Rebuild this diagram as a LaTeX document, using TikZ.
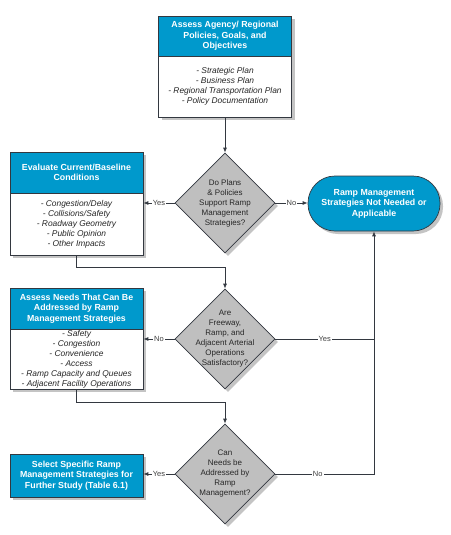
\documentclass[tikz,border=0pt]{standalone}
\usepackage{fontspec}
\setmainfont{Liberation Sans}
\usetikzlibrary{arrows.meta}
\usetikzlibrary{shapes.geometric}
\usetikzlibrary{shadows}
\usetikzlibrary{positioning}
\definecolor{mblue}{rgb}{0, 0.6, 0.8}
\definecolor{mgray}{rgb}{0.75, 0.75, 0.75}
\definecolor{mline}{rgb}{0.2, 0.22, 0.25}
\definecolor{mshadow}{rgb}{0.77, 0.77, 0.77}

\tikzset{
  shade/.style={drop shadow={shadow xshift=3pt, shadow yshift=-3pt, fill=mshadow, opacity=1}},
  head/.style={shade, draw=mline, line width=0.7pt, fill=mblue, text=white,
    font=\fontsize{8.8}{10.5}\selectfont\bfseries, align=center,
    minimum width=133pt, minimum height=41pt, inner sep=0pt},
  body/.style={shade, draw=mline, line width=0.7pt, fill=white, text=black!85,
    font=\fontsize{8.4}{10}\selectfont\itshape, align=center,
    minimum width=133pt, minimum height=61pt, inner sep=0pt},
  decide/.style={shade, diamond, draw=mline, line width=0.7pt, fill=mgray,
    minimum width=100pt, minimum height=100pt, inner sep=0pt},
  ask/.style={font=\fontsize{8}{10}\selectfont, text=black!85, align=center, inner sep=0pt},
  link/.style={draw=mline, line width=0.8pt, -{Latex[length=5pt,width=4pt]}},
  plainline/.style={draw=mline, line width=0.8pt},
  lbl/.style={fill=white, text=black!75, font=\fontsize{7.5}{8}\selectfont, inner sep=1pt},
}

\begin{document}
\begin{tikzpicture}[x=1pt, y=-1pt]
  \useasboundingbox (0,0) rectangle (450,535);

  \node [head, minimum height=40pt] (agency) at (225,36) {Assess Agency/ Regional\\Policies, Goals, and\\Objectives};
  \node [body] (agencyb) at (225,86.5) {- Strategic Plan\\- Business Plan\\- Regional Transportation Plan\\- Policy Documentation};

  \node [decide, label={[ask]center:Do Plans\\\& Policies\\Support Ramp\\Management\\Strategies?}] (plans) at (225,203) {};

  \node [head] (eval) at (76.5,172.5) {Evaluate Current/Baseline\\Conditions};
  \node [body, minimum height=62pt] (evalb) at (76.5,224) {- Congestion/Delay\\- Collisions/Safety\\- Roadway Geometry\\- Public Opinion\\- Other Impacts};

  \node [shade, draw=mline, line width=0.7pt, fill=mblue, text=white, rounded corners=27pt,
    font=\fontsize{8.8}{10.5}\selectfont\bfseries, align=center,
    minimum width=132pt, minimum height=55pt, inner sep=0pt] (stop) at (374,203.5)
    {Ramp Management\\Strategies Not Needed or\\Applicable};

  \node [decide, label={[ask]center:Are\\Freeway,\\Ramp, and\\Adjacent Arterial\\Operations\\Satisfactory?}] (arterial) at (225,339) {};

  \node [head] (needs) at (76.5,308.5) {Assess Needs That Can Be\\Addressed by Ramp\\Management Strategies};
  \node [body, minimum height=60pt] (needsb) at (76.5,359) {- Safety\\- Congestion\\- Convenience\\- Access\\- Ramp Capacity and Queues\\- Adjacent Facility Operations};

  \node [decide, label={[ask]center:Can\\Needs be\\Addressed by\\Ramp\\Management?}] (fund) at (225,474) {};

  \node [head, minimum height=43pt] (select) at (76.5,475.5) {Select Specific Ramp\\Management Strategies for\\Further Study (Table 6.1)};

  \draw [link] (agencyb.south) -- (plans.north);
  \draw [link] (plans.west) -- node [lbl] {Yes} (plans.west -| evalb.east);
  \draw [link] (plans.east) -- node [lbl] {No} (plans.east -| stop.west);
  \draw [link] (evalb.south) -- ++(0,12) -| (arterial.north);
  \draw [link] (arterial.west) -- node [lbl] {No} (arterial.west -| needsb.east);
  \draw [plainline] (arterial.east) -- node [lbl] {Yes} (arterial.east -| stop.south);
  \draw [link] (needsb.south) -- ++(0,13) -| (fund.north);
  \draw [link] (fund.west) -- node [lbl] {Yes} (fund.west -| select.east);
  \draw [link] (fund.east) -- node [lbl, pos=0.43] {No} (fund.east -| stop.south) -- (stop.south);
\end{tikzpicture}
\end{document}
